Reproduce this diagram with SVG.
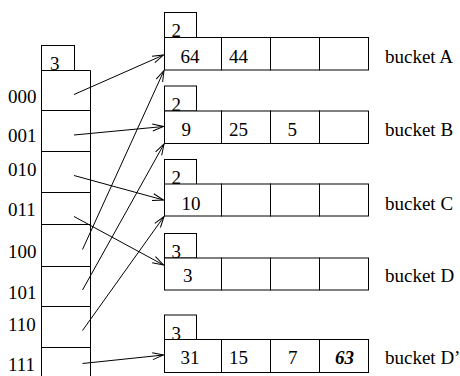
<svg xmlns="http://www.w3.org/2000/svg" width="460" height="376" viewBox="0 0 460 376">
<defs>
<marker id="ah" markerUnits="userSpaceOnUse" markerWidth="14" markerHeight="10" viewBox="-12 -5 14 10" refX="0" refY="0" orient="auto">
<path d="M-11,-3.5 L0,0 L-11,3.5" fill="none" stroke="#000" stroke-width="1"/>
</marker>
<style>
rect.c, line.b { fill: #fff; stroke: #000; stroke-width: 1; }
text { font-family: "Liberation Serif", "Times New Roman", serif; font-size: 19px; fill: #000; }
.bi { font-weight: bold; font-style: italic; }
#connectors line { stroke: #000; stroke-width: 1; marker-end: url(#ah); }
</style>
</defs>
<rect width="460" height="376" fill="#fff"/>

<g id="directory">
<rect class="c" x="41.5" y="45.5" width="33" height="25"/>
<text x="50" y="70">3</text>
<path d="M41.5,376 V70.5 H90.5 V376" fill="none" stroke="#000"/>
<line class="b" x1="41.5" y1="110.5" x2="90.5" y2="110.5"/>
<line class="b" x1="41.5" y1="151.5" x2="90.5" y2="151.5"/>
<line class="b" x1="41.5" y1="192.5" x2="90.5" y2="192.5"/>
<line class="b" x1="41.5" y1="224.5" x2="90.5" y2="224.5"/>
<line class="b" x1="41.5" y1="266.5" x2="90.5" y2="266.5"/>
<line class="b" x1="41.5" y1="306.5" x2="90.5" y2="306.5"/>
<line class="b" x1="41.5" y1="347.5" x2="90.5" y2="347.5"/>
<text x="8" y="103">000</text>
<text x="8" y="142">001</text>
<text x="8" y="176">010</text>
<text x="8" y="216">011</text>
<text x="8" y="258">100</text>
<text x="8" y="299">101</text>
<text x="8" y="331">110</text>
<text x="8" y="371">111</text>
</g>

<g id="bucketA">
<rect class="c" x="164.5" y="12.5" width="32" height="25"/>
<text x="171.5" y="37">2</text>
<rect class="c" x="164.5" y="37.5" width="57" height="32.5"/>
<rect class="c" x="221.5" y="37.5" width="49" height="32.5"/>
<rect class="c" x="270.5" y="37.5" width="49" height="32.5"/>
<rect class="c" x="319.5" y="37.5" width="49" height="32.5"/>
<text x="180.5" y="62.5">64</text>
<text x="229" y="62.5">44</text>
<text x="385" y="62.5">bucket A</text>
</g>

<g id="bucketB">
<rect class="c" x="164.5" y="86" width="32" height="25"/>
<text x="171.5" y="111">2</text>
<rect class="c" x="164.5" y="111" width="57" height="32.5"/>
<rect class="c" x="221.5" y="111" width="49" height="32.5"/>
<rect class="c" x="270.5" y="111" width="49" height="32.5"/>
<rect class="c" x="319.5" y="111" width="49" height="32.5"/>
<text x="181.5" y="136">9</text>
<text x="229" y="136">25</text>
<text x="287.5" y="136">5</text>
<text x="385" y="136">bucket B</text>
</g>

<g id="bucketC">
<rect class="c" x="164.5" y="159.5" width="32" height="25"/>
<text x="171.5" y="184">2</text>
<rect class="c" x="164.5" y="184" width="57" height="32"/>
<rect class="c" x="221.5" y="184" width="49" height="32"/>
<rect class="c" x="270.5" y="184" width="49" height="32"/>
<rect class="c" x="319.5" y="184" width="49" height="32"/>
<text x="181.5" y="209.5">10</text>
<text x="385" y="209.5">bucket C</text>
</g>

<g id="bucketD">
<rect class="c" x="164.5" y="233.5" width="32" height="24.5"/>
<text x="171.5" y="258">3</text>
<rect class="c" x="164.5" y="258" width="57" height="32"/>
<rect class="c" x="221.5" y="258" width="49" height="32"/>
<rect class="c" x="270.5" y="258" width="49" height="32"/>
<rect class="c" x="319.5" y="258" width="49" height="32"/>
<text x="183" y="282">3</text>
<text x="385" y="282">bucket D</text>
</g>

<g id="bucketD2">
<rect class="c" x="164.5" y="315" width="32" height="24.5"/>
<text x="171.5" y="339.5">3</text>
<rect class="c" x="164.5" y="339.5" width="57" height="33"/>
<rect class="c" x="221.5" y="339.5" width="49" height="33"/>
<rect class="c" x="270.5" y="339.5" width="49" height="33"/>
<rect class="c" x="319.5" y="339.5" width="49" height="33"/>
<text x="180.5" y="364">31</text>
<text x="229" y="364">15</text>
<text x="288" y="364">7</text>
<text class="bi" x="335" y="364">63</text>
<text x="385" y="364">bucket D’</text>
</g>

<g id="connectors">
<line x1="74" y1="94.5" x2="163.5" y2="55"/>
<line x1="74" y1="135" x2="163.5" y2="126.5"/>
<line x1="74" y1="175.5" x2="163.5" y2="200"/>
<line x1="74" y1="216.5" x2="163.5" y2="265"/>
<line x1="82.5" y1="249.5" x2="164" y2="70.5"/>
<line x1="82.5" y1="290" x2="164" y2="144"/>
<line x1="82.5" y1="330.5" x2="164" y2="216.5"/>
<line x1="82.5" y1="363.5" x2="163.5" y2="355"/>
</g>
</svg>
